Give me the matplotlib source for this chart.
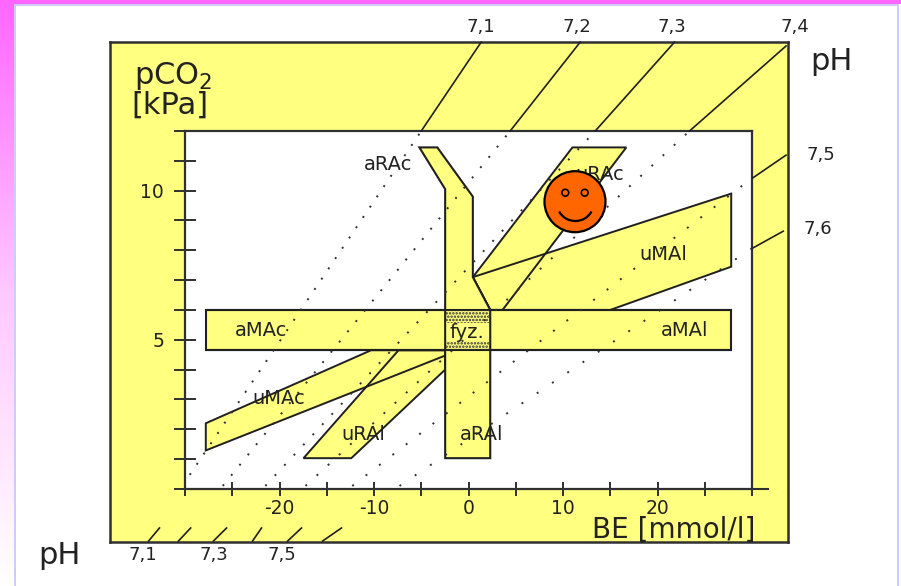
import numpy as np
import matplotlib
matplotlib.use("Agg")
import matplotlib.pyplot as plt
from matplotlib.patches import Polygon, Rectangle, Circle, Arc
from matplotlib.colors import LinearSegmentedColormap

plt.rcParams['font.family'] = ['DejaVu Sans']
plt.rcParams['hatch.linewidth'] = 1.2

YELLOW = '#FFFF80'
DARK = '#303030'

# value ranges of the inner diagram
be_lim = [-30, 30]
pco2_lim = [0, 12]
be_ticks = [-30, -25, -20, -15, -10, -5, 0, 5, 10, 15, 20, 25, 30]
be_labels = ['', '', '-20', '', '-10', '', '0', '', '10', '', '20', '', '']
pco2_ticks = [0, 1, 2, 3, 4, 5, 6, 7, 8, 9, 10, 11, 12]
pco2_labels = ['', '', '', '', '', '5', '', '', '', '', '10', '', '']

# regions, (BE, pCO2) corners
uMAl = [(0.46, 7.1), (27.8, 9.9), (27.8, 7.45), (15, 6.0), (2.3, 6.0)]
uRAc = [(0.46, 7.1), (11, 11.45), (16.7, 11.45), (3.6, 6.0), (2.3, 6.0)]
uMAc = [(-27.8, 2.2), (-27.8, 1.29), (-2.47, 4.47), (-2.47, 4.65), (-10.3, 4.65)]
uRAl = [(-17.46, 1.03), (-12.4, 1.03), (-2.47, 4.0), (-2.47, 4.65), (-7.4, 4.65)]
aMA = [(-27.8, 4.65), (27.8, 4.65), (27.8, 6.0), (-27.8, 6.0)]
aR = [(-5.2, 11.45), (-3.3, 11.45), (0.46, 9.8), (0.46, 7.1), (2.3, 6.0),
      (2.3, 1.03), (-2.47, 1.03), (-2.47, 10.05)]
fyz_x = [-2.47, 2.3]
fyz_top = [5.57, 6.0]
fyz_bottom = [4.65, 4.95]

# pH isolines: dotted from low end to the frame, solid in the yellow band
ph_dot_be = [(-29.5, -5.0), (-26.0, 4.41), (-21.5, 13.41), (-17.25, 23.39), (-12.3, 30.0), (-7.3, 30.0)]
ph_dot_pco2 = [(0.47, 12.0), (0.1, 12.0), (0.1, 12.0), (0.1, 12.0), (0.1, 10.42), (0.1, 8.07)]
ph_dot_gap = [12.4, 13.2, 13.9, 15.2, 16.9, 18.4]
ph_top_be = [(-5.0, 1.34), (4.41, 11.82), (13.41, 21.8), (23.39, 33.6), (30.05, 33.6), (30.05, 33.3)]
ph_top_pco2 = [(12.0, 14.98), (12.0, 14.98), (12.0, 14.98), (12.0, 14.85), (10.42, 11.19), (8.07, 8.64)]
ph_low_be = [(-33.86, -32.7), (-30.7, -29.4), (-27.0, -25.6), (-22.86, -21.9), (-19.15, -17.67), (-15.45, -13.44)]
ph_low_pco2 = (-1.75, -1.31)

fig = plt.figure(figsize=(9.01, 5.86), dpi=100)

# slide background
bg = fig.add_axes([0, 0, 1, 1], zorder=0)
bg.axis('off')
cmap = LinearSegmentedColormap.from_list('pink', ['#FF66FF', '#FFC8FF', '#FFFFFF'])
bg.imshow(np.linspace(0, 1, 256).reshape(-1, 1), cmap=cmap, extent=[0, 14, 586, 0], aspect='auto')
bg.set_xlim(0, 901)
bg.set_ylim(586, 0)
bg.add_patch(Rectangle((0, 0), 901, 4, fc='#FF66FF', ec='none'))
bg.add_patch(Rectangle((14, 4), 885, 2, fc='#CCCCFF', ec='none'))
bg.add_patch(Rectangle((14, 4), 2, 582, fc='#CCCCFF', ec='none'))
bg.add_patch(Rectangle((897, 4), 2, 582, fc='#CCCCFF', ec='none'))

# yellow outer frame
outer = fig.add_axes([110 / 901, (586 - 541.7) / 586, 678 / 901, 499.7 / 586], zorder=1)
outer.set_facecolor(YELLOW)
outer.set_xticks([])
outer.set_yticks([])
for s in outer.spines.values():
    s.set_color(DARK)
    s.set_linewidth(1.8)

# inner diagram
ax = fig.add_axes([185 / 901, (586 - 488.9) / 586, 567 / 901, 357.9 / 586], zorder=2)
ax.set_facecolor('white')
ax.set_xlim(be_lim)
ax.set_ylim(pco2_lim)
for s in ax.spines.values():
    s.set_color(DARK)
    s.set_linewidth(1.6)
ax.set_xticks(be_ticks)
ax.set_xticklabels(be_labels, fontsize=13.5, color='#222222')
ax.set_yticks(pco2_ticks)
ax.set_yticklabels(pco2_labels, fontsize=13.5, color='#222222')
ax.tick_params(axis='x', direction='inout', length=10, width=1.4, color=DARK, pad=2)
ax.tick_params(axis='y', direction='inout', length=16, width=1.4, color=DARK, pad=7)
ax.plot([30, 31.7], [0, 0], color=DARK, lw=1.5, clip_on=False)

# the slanted bands show through each other, only the two main bands hide what is behind
for poly in [uMAl, uRAc, uMAc, uRAl]:
    ax.add_patch(Polygon(poly, closed=True, fc=YELLOW, ec='none', zorder=1))
for poly in [uMAl, uRAc, uMAc, uRAl]:
    ax.add_patch(Polygon(poly, closed=True, fc='none', ec='#202020', lw=1.4, zorder=1.5))
ax.add_patch(Polygon(aMA, closed=True, fc=YELLOW, ec='#202020', lw=1.5, zorder=2))
ax.add_patch(Polygon(aR, closed=True, fc=YELLOW, ec='#202020', lw=1.5, zorder=2.1))
ax.plot([-27.8, 27.8], [6.0, 6.0], color='#202020', lw=1.5, zorder=2.2)
ax.plot([-27.8, 27.8], [4.65, 4.65], color='#202020', lw=1.5, zorder=2.2)
for band in [fyz_top, fyz_bottom]:
    ax.add_patch(Rectangle((fyz_x[0], band[0]), fyz_x[1] - fyz_x[0], band[1] - band[0],
                           fc='none', ec='#303030', lw=0, hatch='.....', zorder=2.3))

for bx, py, gap in zip(ph_dot_be, ph_dot_pco2, ph_dot_gap):
    ax.plot(bx, py, color='#303030', lw=1.4, linestyle=(0, (1, gap * 0.72 / 1.4 - 1)), zorder=3)
for bx, py in zip(ph_top_be, ph_top_pco2):
    ax.plot(bx, py, color='#202020', lw=1.2, clip_on=False, zorder=3)
for bx in ph_low_be:
    ax.plot(bx, ph_low_pco2, color='#202020', lw=1.2, clip_on=False, zorder=3)

# labels and the face, placed in pixels over everything
ov = fig.add_axes([0, 0, 1, 1], zorder=3)
ov.set_xlim(0, 901)
ov.set_ylim(586, 0)
ov.axis('off')
ov.patch.set_alpha(0)

small = dict(fontsize=13, color='#222222', ha='center', va='center')
for s, x, y in [('7,1', 481, 27), ('7,2', 577, 27), ('7,3', 672, 27), ('7,4', 795, 27),
                ('7,5', 821, 155), ('7,6', 818, 229), ('7,1', 143, 555), ('7,3', 214, 555),
                ('7,5', 282, 555)]:
    ov.text(x, y, s, **small)

big = dict(fontsize=22, color='#222222', ha='center', va='center')
ov.text(831, 62, 'pH', **big)
ov.text(59, 555, 'pH', **big)
ov.text(170, 105, '[kPa]', **big)
ov.text(173, 76, 'pCO$_\\mathregular{2}$', **big)
ov.text(674, 530, 'BE [mmol/l]', fontsize=20, color='#222222', ha='center', va='center')

region = dict(fontsize=14, color='#222222', ha='center', va='center')
for s, x, y in [('aRAc', 388, 165), ('uRAc', 600, 175), ('uMAl', 663, 254), ('aMAc', 261, 330),
                ('fyz.', 467, 332), ('aMAl', 685, 331), ('uMAc', 279, 398), ('uRAl', 363, 435),
                ('aRAl', 482, 435)]:
    ov.text(x, y, s, **region)

ov.add_patch(Circle((575, 201.7), 30.5, fc='#FF6600', ec='black', lw=1.6, zorder=5))
ov.add_patch(Circle((565.3, 192.7), 3.4, fc='#FF6600', ec='black', lw=1.2, zorder=6))
ov.add_patch(Circle((584.7, 192.7), 3.4, fc='#FF6600', ec='black', lw=1.2, zorder=6))
ov.add_patch(Arc((575.3, 204), 36, 34, theta1=25, theta2=155, ec='black', lw=1.6, zorder=6))

fig.savefig('out.png', dpi=100)
